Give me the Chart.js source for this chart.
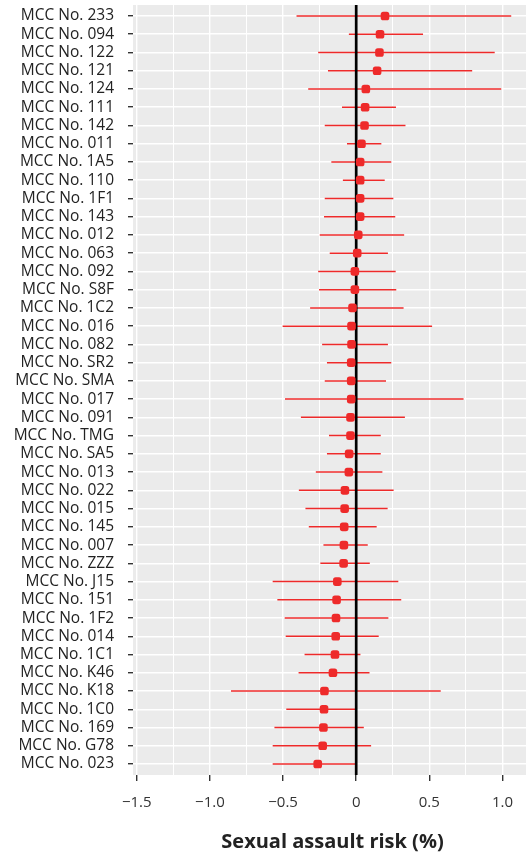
<!DOCTYPE html>
<html>
<head>
<meta charset="utf-8">
<script src="https://cdn.jsdelivr.net/npm/chart.js@4"></script>
<style>
  html, body { margin: 0; padding: 0; background: #fff; overflow: hidden; }
  #wrap { width: 537px; height: 858px; position: relative; }
</style>
</head>
<body>
<div id="wrap"><canvas id="forest"></canvas></div>
<script>
// rows, top to bottom
const rowLabels = [
  'MCC No. 233', 'MCC No. 094', 'MCC No. 122', 'MCC No. 121', 'MCC No. 124',
  'MCC No. 111', 'MCC No. 142', 'MCC No. 011', 'MCC No. 1A5', 'MCC No. 110',
  'MCC No. 1F1', 'MCC No. 143', 'MCC No. 012', 'MCC No. 063', 'MCC No. 092',
  'MCC No. S8F', 'MCC No. 1C2', 'MCC No. 016', 'MCC No. 082', 'MCC No. SR2',
  'MCC No. SMA', 'MCC No. 017', 'MCC No. 091', 'MCC No. TMG', 'MCC No. SA5',
  'MCC No. 013', 'MCC No. 022', 'MCC No. 015', 'MCC No. 145', 'MCC No. 007',
  'MCC No. ZZZ', 'MCC No. J15', 'MCC No. 151', 'MCC No. 1F2', 'MCC No. 014',
  'MCC No. 1C1', 'MCC No. K46', 'MCC No. K18', 'MCC No. 1C0', 'MCC No. 169',
  'MCC No. G78', 'MCC No. 023'
];
const estimate = [
  0.197, 0.163, 0.159, 0.143, 0.066, 0.061, 0.057, 0.036, 0.027, 0.027,
  0.027, 0.027, 0.014, 0.007, -0.009, -0.009, -0.025, -0.032, -0.032, -0.034,
  -0.034, -0.034, -0.039, -0.039, -0.048, -0.050, -0.077, -0.079, -0.082, -0.084,
  -0.086, -0.129, -0.134, -0.138, -0.140, -0.145, -0.159, -0.217, -0.220, -0.224,
  -0.229, -0.263
];
const lower = [
  -0.408, -0.050, -0.260, -0.193, -0.328, -0.097, -0.215, -0.063, -0.170, -0.091,
  -0.215, -0.220, -0.249, -0.181, -0.260, -0.254, -0.315, -0.503, -0.233, -0.200,
  -0.215, -0.487, -0.378, -0.186, -0.200, -0.276, -0.392, -0.347, -0.324, -0.224,
  -0.245, -0.571, -0.539, -0.489, -0.482, -0.353, -0.394, -0.856, -0.478, -0.559,
  -0.571, -0.571
];
const upper = [
  1.060, 0.457, 0.947, 0.793, 0.992, 0.272, 0.337, 0.172, 0.240, 0.195,
  0.254, 0.267, 0.328, 0.217, 0.270, 0.274, 0.324, 0.519, 0.217, 0.240,
  0.204, 0.734, 0.333, 0.168, 0.168, 0.179, 0.256, 0.215, 0.140, 0.079,
  0.093, 0.288, 0.308, 0.220, 0.154, 0.029, 0.091, 0.578, -0.005, 0.052,
  0.102, -0.007
];
const xTickValues = [-1.5, -1.25, -1.0, -0.75, -0.5, -0.25, 0, 0.25, 0.5, 0.75, 1.0];
const xTickLabels = ['\u22121.5', '', '\u22121.0', '', '\u22120.5', '', '0', '', '0.5', '', '1.0'];
const xTitle = 'Sexual assault risk (%)';

const red = '#ee2a2a';
const isMajor = v => Math.abs(v * 2 - Math.round(v * 2)) < 1e-6;

const panelBg = {
  id: 'panelBg',
  beforeDraw(chart) {
    const a = chart.chartArea, c = chart.ctx;
    c.save();
    c.fillStyle = '#ebebeb';
    c.fillRect(a.left, a.top, a.right - a.left, a.bottom - a.top);
    c.restore();
  }
};

// vertical reference line at zero, under the points
const zeroLine = {
  id: 'zeroLine',
  afterDatasetDraw(chart, args) {
    if (args.index !== 1) return;
    const a = chart.chartArea, c = chart.ctx;
    const x = chart.scales.x.getPixelForValue(0);
    c.save();
    c.strokeStyle = '#000';
    c.lineWidth = 2.7;
    c.beginPath();
    c.moveTo(x, a.top);
    c.lineTo(x, a.bottom);
    c.stroke();
    c.restore();
  }
};

const intervals = rowLabels.map((lab, i) => ({
  type: 'scatter',
  label: lab,
  data: [{ x: lower[i], y: i }, { x: upper[i], y: i }],
  showLine: true,
  borderColor: red,
  borderWidth: 1.5,
  pointRadius: 0,
  order: 2
}));

new Chart(document.getElementById('forest'), {
  type: 'scatter',
  data: {
    datasets: [
      {
        label: 'estimate',
        data: estimate.map((v, i) => ({ x: v, y: i })),
        pointStyle: 'rectRounded',
        pointRadius: 5,
        backgroundColor: red,
        borderWidth: 0,
        order: 0
      },
      {
        label: 'ci-holder',
        data: [],
        order: 1
      },
      ...intervals
    ]
  },
  options: {
    responsive: true,
    maintainAspectRatio: false,
    animation: false,
    events: [],
    layout: { padding: { top: 5, right: 0, bottom: 0, left: 0 } },
    plugins: { legend: { display: false }, tooltip: { enabled: false } },
    scales: {
      x: {
        type: 'linear',
        min: -1.526,
        max: 1.202,
        afterBuildTicks: s => { s.ticks = xTickValues.map(v => ({ value: v })); },
        afterFit: s => { s.height = 83; s.paddingLeft = 0; s.paddingRight = 0; },
        border: { display: false },
        grid: {
          color: '#fff',
          lineWidth: c => (isMajor(c.tick.value) ? 1.4 : 1.0),
          tickColor: c => (isMajor(c.tick.value) ? '#333' : 'rgba(0,0,0,0)'),
          tickLength: 6,
          drawTicks: true
        },
        ticks: {
          autoSkip: false,
          maxRotation: 0,
          padding: 13,
          color: '#333',
          font: { family: 'Open Sans', size: 15 },
          callback: (v, i) => xTickLabels[i]
        },
        title: {
          display: true,
          text: xTitle,
          color: '#222',
          font: { family: 'Open Sans', size: 20, weight: 'bold' },
          padding: { top: 0, bottom: 4 }
        }
      },
      y: {
        type: 'linear',
        reverse: true,
        min: -0.6,
        max: rowLabels.length - 0.4,
        afterBuildTicks: s => { s.ticks = rowLabels.map((l, i) => ({ value: i })); },
        afterFit: s => { s.width = 133; s.paddingTop = 0; s.paddingBottom = 0; },
        border: { display: false },
        grid: {
          color: '#fff',
          lineWidth: 1.4,
          tickColor: '#333',
          tickLength: 5
        },
        ticks: {
          autoSkip: false,
          padding: 14,
          color: '#222',
          font: { family: 'Open Sans', size: 15.5 },
          callback: v => rowLabels[v]
        }
      }
    }
  },
  plugins: [panelBg, zeroLine]
});
</script>
</body>
</html>
